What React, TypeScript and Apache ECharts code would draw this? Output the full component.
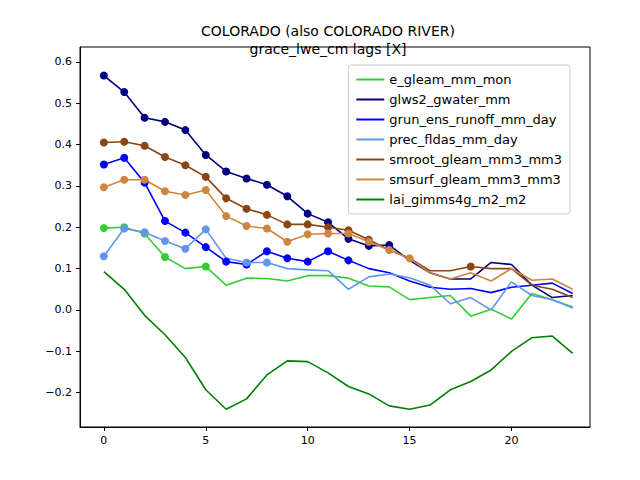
import { useEffect, useRef } from "react";
import * as echarts from "echarts";

const lags = Array.from({ length: 24 }, (_, i) => i);
const seriesNames = [
  "e_gleam_mm_mon",
  "glws2_gwater_mm",
  "grun_ens_runoff_mm_day",
  "prec_fldas_mm_day",
  "smroot_gleam_mm3_mm3",
  "smsurf_gleam_mm3_mm3",
  "lai_gimms4g_m2_m2",
];
const colors = ["#32cd32", "#000080", "#0000ff", "#6495ed", "#8b4513", "#cd853f", "#008000"];
const eGleam = [0.198, 0.2, 0.185, 0.128, 0.1, 0.105, 0.06, 0.077, 0.076, 0.07, 0.083, 0.083, 0.077, 0.058, 0.056, 0.025, 0.03, 0.035, -0.015, 0.002, -0.022, 0.04, 0.025, 0.007];
const glws2 = [0.567, 0.527, 0.465, 0.455, 0.435, 0.375, 0.335, 0.318, 0.303, 0.275, 0.233, 0.212, 0.172, 0.155, 0.157, 0.12, 0.09, 0.075, 0.075, 0.115, 0.11, 0.06, 0.03, 0.035];
const grun = [0.352, 0.368, 0.308, 0.215, 0.187, 0.152, 0.117, 0.11, 0.142, 0.125, 0.117, 0.142, 0.12, 0.1, 0.09, 0.07, 0.055, 0.05, 0.052, 0.042, 0.055, 0.06, 0.065, 0.04];
const prec = [0.13, 0.197, 0.188, 0.167, 0.148, 0.195, 0.125, 0.115, 0.115, 0.1, 0.097, 0.095, 0.05, 0.08, 0.087, 0.078, 0.06, 0.015, 0.03, 0.0, 0.068, 0.035, 0.025, 0.005];
const smroot = [0.405, 0.407, 0.397, 0.37, 0.35, 0.322, 0.27, 0.245, 0.23, 0.207, 0.207, 0.2, 0.193, 0.17, 0.145, 0.125, 0.095, 0.095, 0.105, 0.1, 0.1, 0.06, 0.05, 0.03];
const smsurf = [0.297, 0.315, 0.315, 0.287, 0.278, 0.29, 0.227, 0.203, 0.197, 0.165, 0.183, 0.185, 0.185, 0.165, 0.145, 0.125, 0.09, 0.075, 0.09, 0.07, 0.1, 0.072, 0.075, 0.05];
const lai = [0.093, 0.05, -0.013, -0.06, -0.115, -0.193, -0.24, -0.215, -0.157, -0.123, -0.125, -0.152, -0.185, -0.203, -0.232, -0.24, -0.23, -0.193, -0.173, -0.145, -0.1, -0.067, -0.063, -0.105];
// lags drawn with a dot marker
const marked = [
  [0, 1, 2, 3, 5],
  [0, 1, 2, 3, 4, 5, 6, 7, 8, 9, 10, 11, 12, 13, 14],
  [0, 1, 2, 3, 4, 5, 6, 7, 8, 9, 10, 11, 12],
  [0, 1, 2, 3, 4, 5, 7, 8],
  [0, 1, 2, 3, 4, 5, 6, 7, 8, 9, 10, 11, 12, 13, 18],
  [0, 1, 2, 3, 4, 5, 6, 7, 8, 9, 10, 11, 12, 13, 14, 15],
  [],
];
const values = [eGleam, glws2, grun, prec, smroot, smsurf, lai];
const yTicks = [-0.2, -0.1, 0, 0.1, 0.2, 0.3, 0.4, 0.5, 0.6];
const xTicks = [0, 5, 10, 15, 20];

const App = () => {
  const chartRef = useRef(null);

  useEffect(() => {
    const chart = echarts.init(chartRef.current, null, { renderer: "svg" });
    const font = "DejaVu Sans";
    chart.setOption({
      animation: false,
      textStyle: { fontFamily: font },
      title: {
        text: "COLORADO (also COLORADO RIVER)\ngrace_lwe_cm lags [X]",
        left: "center",
        top: 9,
        textStyle: { fontSize: 14, fontWeight: "normal", color: "#000", lineHeight: 18 },
      },
      grid: { left: 72, right: 58, top: 39, bottom: 61, show: true, borderColor: "#000", borderWidth: 1 },
      legend: {
        orient: "vertical",
        right: 78,
        top: 57,
        itemWidth: 28,
        itemHeight: 2,
        itemGap: 7,
        padding: [8, 8, 8, 8],
        borderColor: "#ccc",
        borderWidth: 1,
        borderRadius: 3,
        icon: "rect",
        textStyle: { fontSize: 13, color: "#000" },
        data: seriesNames,
      },
      xAxis: {
        type: "value",
        min: -1.17,
        max: 23.85,
        splitLine: { show: false },
        axisLine: { show: true, onZero: false, lineStyle: { color: "#000" } },
        axisTick: { show: true, customValues: xTicks, length: 4, lineStyle: { color: "#000" } },
        axisLabel: { customValues: xTicks, color: "#000", fontSize: 11 },
      },
      yAxis: {
        type: "value",
        min: -0.283,
        max: 0.636,
        splitLine: { show: false },
        axisLine: { show: true, onZero: false, lineStyle: { color: "#000" } },
        axisTick: { show: true, customValues: yTicks, length: 4, lineStyle: { color: "#000" } },
        axisLabel: {
          customValues: yTicks,
          color: "#000",
          fontSize: 11,
          formatter: (v: number) => (v < 0 ? "\u2212" + Math.abs(v).toFixed(1) : v.toFixed(1)),
        },
      },
      series: seriesNames.map((name, s) => ({
        name,
        type: "line",
        color: colors[s],
        lineStyle: { width: 1.6 },
        symbolSize: 8,
        showAllSymbol: true,
        data: values[s].map((v, i) => ({
          value: [lags[i], v],
          symbol: marked[s].includes(i) ? "circle" : "none",
        })),
      })),
    });
    return () => chart.dispose();
  }, []);

  return <div ref={chartRef} style={{ width: "640px", height: "480px" }}></div>;
};

export default App;
